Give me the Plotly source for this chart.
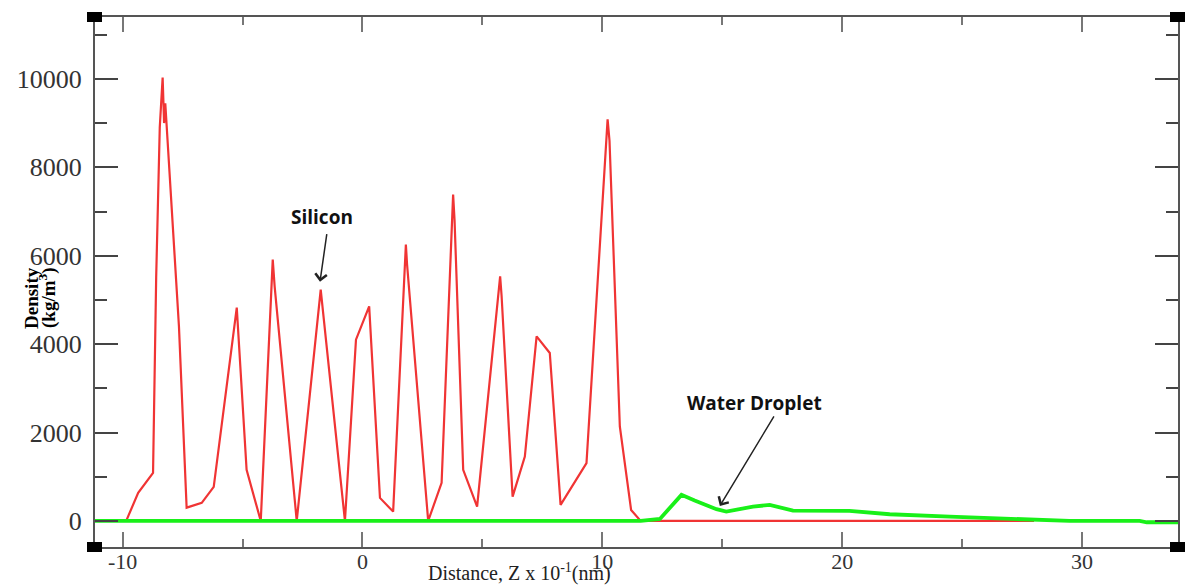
import plotly.graph_objects as go

# Silicon density profile (red)
si_x = [-11.15, -9.85, -9.35, -8.73, -8.6, -8.45, -8.33, -8.27, -8.22, -7.65, -7.33, -6.7, -6.2,
        -5.24, -4.83, -4.24, -3.74, -3.66, -2.74, -1.74, -0.73, -0.27, 0.28, 0.73, 1.28,
        1.81, 1.86, 2.74, 3.3, 3.78, 3.84, 4.2, 4.78, 5.74, 5.8, 6.26, 6.77, 7.26, 7.81,
        8.26, 9.34, 10.15, 10.22, 10.3, 10.73, 11.2, 11.6, 28.0]
si_y = [0, 0, 634, 1087, 5500, 8900, 10030, 9000, 9450, 4400, 300, 408, 770,
        4824, 1155, 0, 5911, 5300, 0, 5232, 0, 4100, 4854, 521, 211,
        6250, 5800, 0, 860, 7384, 6800, 1155, 324, 5534, 5100, 550, 1457, 4175, 3798,
        362, 1307, 8300, 9083, 8600, 2136, 249, 0, 0]

# Water droplet density profile (green)
w_x = [-11.15, 11.6, 12.4, 13.3, 13.85, 14.76, 15.17, 16.28, 16.98, 17.95, 20.3, 21.98,
       24.48, 26.56, 27.94, 29.48, 32.4, 32.7, 34.0]
w_y = [0, 0, 45, 589, 460, 265, 211, 324, 362, 233, 226, 151,
       98, 60, 38, 0, 0, -30, -30]

x_ticks = [-10, 0, 10, 20, 30]
y_ticks = [0, 2000, 4000, 6000, 8000, 10000]

# plot area in pixels
L, R, T, B = 95, 1178, 17, 547
W, H = 1187, 585
def px(xp):
    return (xp - L) / (R - L)
def py(yp):
    return (B - yp) / (B - T)

fig = go.Figure()
fig.add_trace(go.Scatter(x=si_x, y=si_y, mode="lines", name="Silicon",
                         line=dict(color="#f03434", width=2.2), showlegend=False))
fig.add_trace(go.Scatter(x=w_x, y=w_y, mode="lines", name="Water Droplet",
                         line=dict(color="#19f019", width=3.8), showlegend=False))

serif = "Liberation Serif"
fig.update_layout(
    width=W, height=H,
    margin=dict(l=L, r=W - R, t=T, b=H - B),
    paper_bgcolor="white", plot_bgcolor="white",
    xaxis=dict(range=[-11.15, 34.0], tickvals=x_ticks, ticktext=[str(v) for v in x_ticks],
               ticks="inside", ticklen=15, tickwidth=2, tickcolor="#777",
               minor=dict(dtick=5, tick0=0, ticks="inside", ticklen=8, tickwidth=2, tickcolor="#777"),
               showline=True, linecolor="#555", linewidth=2, mirror="ticks",
               showgrid=False, zeroline=False, automargin=False,
               tickfont=dict(family=serif, size=22, color="#333"), ticklabelstandoff=-6),
    yaxis=dict(range=[-590, 11400], tickvals=y_ticks, ticktext=[str(v) for v in y_ticks],
               ticks="inside", ticklen=23, tickwidth=1.5, tickcolor="#444",
               minor=dict(dtick=1000, tick0=0, ticks="inside", ticklen=12, tickwidth=1.5, tickcolor="#444"),
               showline=True, linecolor="#555", linewidth=2, mirror="ticks",
               showgrid=False, zeroline=False, automargin=False,
               tickfont=dict(family=serif, size=26, color="#333"), ticklabelstandoff=6),
)

# axis titles
fig.add_annotation(xref="paper", yref="paper", x=px(519), y=py(572),
                   xanchor="center", yanchor="middle",
                   text="Distance, Z x 10<sup>-1</sup>(nm)", showarrow=False,
                   font=dict(family=serif, size=20, color="#222"))
fig.add_annotation(xref="paper", yref="paper", x=px(31), y=py(298),
                   xanchor="center", yanchor="middle",
                   text="<b>Density</b>", showarrow=False, textangle=-90,
                   font=dict(family=serif, size=19, color="black"))
fig.add_annotation(xref="paper", yref="paper", x=px(47), y=py(298),
                   xanchor="center", yanchor="middle",
                   text="<b>(kg/m<sup>3</sup>)</b>", showarrow=False, textangle=-90,
                   font=dict(family=serif, size=19, color="black"))

# labels with arrows
sans = "Open Sans"
fig.add_annotation(x=-1.69, y=6886, text="<b>Silicon</b>", showarrow=False,
                   xanchor="center", yanchor="middle",
                   font=dict(family=sans, size=19, color="#111"))
fig.add_annotation(x=-1.77, y=5413, ax=7, ay=-49, text="", showarrow=True,
                   arrowhead=4, arrowsize=1.5, arrowwidth=1.5, arrowcolor="#222")
fig.add_annotation(x=16.35, y=2673, text="<b>Water Droplet</b>", showarrow=False,
                   xanchor="center", yanchor="middle",
                   font=dict(family=sans, size=19, color="#111"))
fig.add_annotation(x=14.9, y=340, ax=55, ay=-91, text="", showarrow=True,
                   arrowhead=4, arrowsize=1.5, arrowwidth=1.5, arrowcolor="#222")

# corner squares
for xa, ya in [(0, 0), (0, 1), (1, 0), (1, 1)]:
    fig.add_shape(type="rect", xref="paper", yref="paper",
                  xsizemode="pixel", ysizemode="pixel", xanchor=xa, yanchor=ya,
                  x0=-8, x1=7, y0=-5, y1=5, fillcolor="black", line=dict(width=0))

fig.write_html("out.html")
